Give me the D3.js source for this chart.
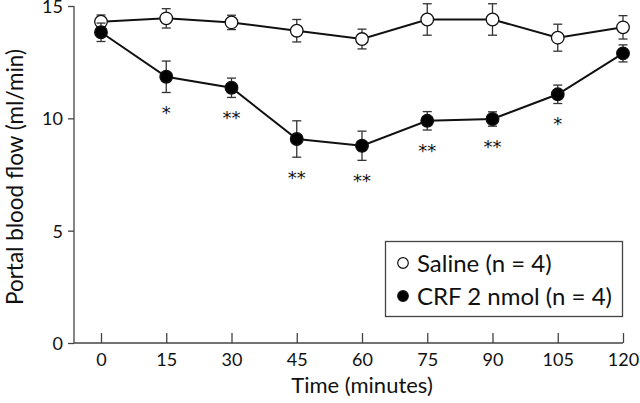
<!DOCTYPE html>
<html><head><meta charset="utf-8">
<script src="https://cdn.jsdelivr.net/npm/d3@7"></script>
<style>body{margin:0;background:#fff}svg{display:block}text{font-family:Lato,"DejaVu Sans",sans-serif;fill:#111}</style>
</head><body>
<script>
const times = [0, 15, 30, 45, 60, 75, 90, 105, 120];
const salineMean = [14.3, 14.45, 14.27, 13.9, 13.53, 14.4, 14.4, 13.59, 14.05];
const salineErr  = [0.3, 0.43, 0.32, 0.5, 0.44, 0.7, 0.7, 0.6, 0.52];
const crfMean = [13.83, 11.85, 11.36, 9.08, 8.78, 9.89, 9.97, 11.07, 12.89];
const crfErr  = [0.41, 0.7, 0.43, 0.81, 0.65, 0.41, 0.32, 0.41, 0.38];
const crfSig  = ["", "*", "**", "**", "**", "**", "**", "*", ""];
const xTicks = [0, 15, 30, 45, 60, 75, 90, 105, 120];
const yTicks = [0, 5, 10, 15];
const legendLabels = ["Saline (n = 4)", "CRF 2 nmol (n = 4)"];

const W = 640, H = 403;
const svg = d3.select("body").append("svg").attr("width", W).attr("height", H);
const x = d3.scaleLinear().domain([0, 120]).range([101, 623]);
const y = d3.scaleLinear().domain([0, 15]).range([343, 6]);

// axes
const yAxis = svg.append("g").attr("transform", "translate(74,0)")
  .call(d3.axisLeft(y).tickValues(yTicks).tickSize(6).tickPadding(5));
yAxis.select(".domain").attr("d", `M0,${y(15)}V${y(0)}`);
const xAxis = svg.append("g").attr("transform", `translate(0,${y(0)})`)
  .call(d3.axisBottom(x).tickValues(xTicks).tickSize(-10).tickPadding(21));
xAxis.select(".domain").attr("d", `M74,0H${x(120)}`);
svg.selectAll(".domain, .tick line").attr("stroke", "#444").attr("stroke-width", 1.3);
svg.selectAll(".tick text").style("font-size", "18px").attr("fill", "#111")
  .style("font-family", "Lato, sans-serif");
yAxis.selectAll(".tick text").attr("dy", "0.36em");
xAxis.selectAll(".tick text").attr("dy", "0.36em").attr("y", 17);

svg.append("text").attr("x", 362).attr("y", 393).attr("text-anchor", "middle")
  .style("font-size", "22px").text("Time (minutes)");
svg.append("text").attr("transform", "translate(23,177) rotate(-90)").attr("text-anchor", "middle")
  .style("font-size", "22.5px").text("Portal blood flow (ml/min)");

const line = d3.line().x(d => x(d[0])).y(d => y(d[1]));
function drawSeries(mean, err, fill) {
  const pts = times.map((t, i) => [t, mean[i], err[i]]);
  svg.append("path").datum(pts).attr("d", line).attr("fill", "none")
    .attr("stroke", "#111").attr("stroke-width", 2);
  const g = svg.append("g").attr("stroke", "#333").attr("stroke-width", 1.3);
  pts.forEach(p => {
    const cx = x(p[0]), y1 = y(p[1] + p[2]), y2 = y(p[1] - p[2]);
    g.append("line").attr("x1", cx).attr("x2", cx).attr("y1", y1).attr("y2", y2);
    g.append("line").attr("x1", cx - 4.5).attr("x2", cx + 4.5).attr("y1", y1).attr("y2", y1);
    g.append("line").attr("x1", cx - 4.5).attr("x2", cx + 4.5).attr("y1", y2).attr("y2", y2);
  });
  svg.append("g").selectAll("circle").data(pts).join("circle")
    .attr("cx", d => x(d[0])).attr("cy", d => y(d[1])).attr("r", 6.3)
    .attr("fill", fill).attr("stroke", "#111").attr("stroke-width", 1.3);
}
drawSeries(salineMean, salineErr, "#fff");
drawSeries(crfMean, crfErr, "#000");

svg.append("g").selectAll("text").data(times).join("text")
  .attr("x", d => x(d)).attr("y", (d, i) => y(crfMean[i] - crfErr[i]) + 16)
  .attr("dy", "0.6em")
  .attr("text-anchor", "middle").style("font-size", "18px")
  .style("font-family", "'DejaVu Sans', sans-serif")
  .text((d, i) => crfSig[i]);

// legend
svg.append("rect").attr("x", 385.5).attr("y", 241.5).attr("width", 237).attr("height", 75)
  .attr("fill", "#fff").attr("stroke", "#444").attr("stroke-width", 1.3);
const fills = ["#fff", "#000"];
legendLabels.forEach((lab, i) => {
  const ly = 263 + i * 33;
  svg.append("circle").attr("cx", 403).attr("cy", ly).attr("r", 5.3)
    .attr("fill", fills[i]).attr("stroke", "#111").attr("stroke-width", 1.2);
  svg.append("text").attr("x", 417).attr("y", ly).attr("dy", "0.36em")
    .style("font-size", "24px").text(lab);
});
</script>
</body></html>
